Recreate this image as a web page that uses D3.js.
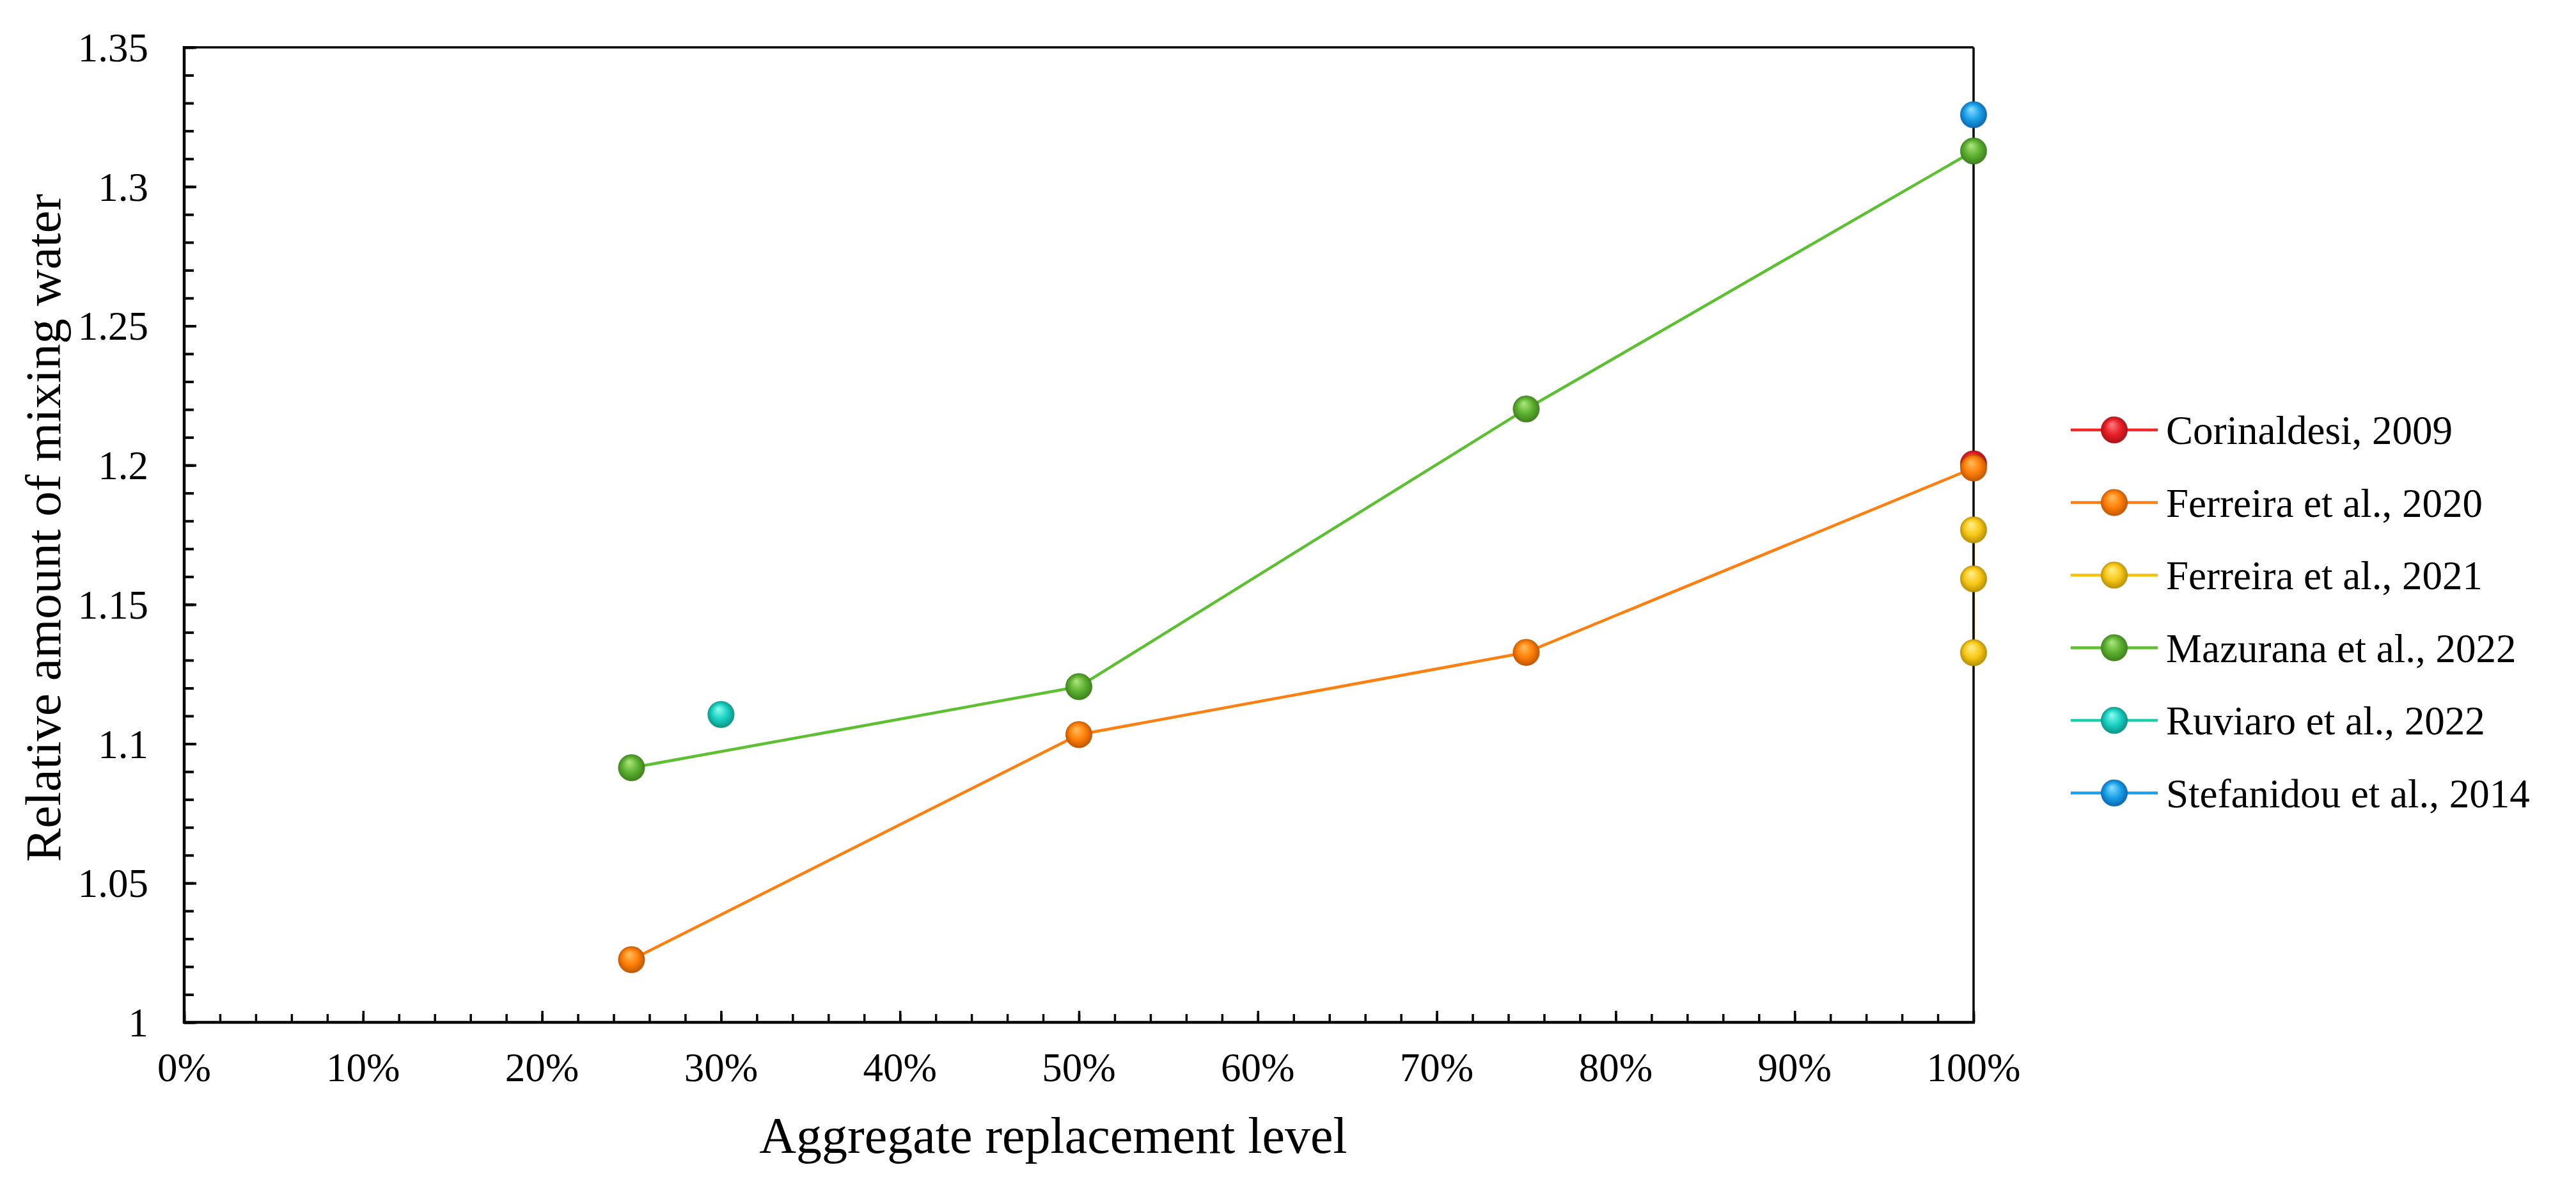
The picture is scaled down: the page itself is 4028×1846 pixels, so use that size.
<!DOCTYPE html>
<html>
<head>
<meta charset="utf-8">
<script src="https://cdn.jsdelivr.net/npm/d3@7/dist/d3.min.js"></script>
<style>
  body { margin:0; background:#fff; }
  text { font-family: "Liberation Serif", "Times New Roman", serif; fill:#000; }
</style>
</head>
<body>
<svg id="chart" width="4028" height="1846"></svg>
<script>
// data
const seriesNames=["Corinaldesi, 2009","Ferreira et al., 2020","Ferreira et al., 2021","Mazurana et al., 2022","Ruviaro et al., 2022","Stefanidou et al., 2014"]
const corinaldesiX=[1.0], corinaldesiY=[1.2005]
const ferreira2020X=[0.25,0.5,0.75,1.0], ferreira2020Y=[1.0225,1.1033,1.1328,1.1990]
const ferreira2021X=[1.0,1.0,1.0], ferreira2021Y=[1.1768,1.1592,1.1327]
const mazuranaX=[0.25,0.5,0.75,1.0], mazuranaY=[1.0914,1.1205,1.2202,1.3128]
const ruviaroX=[0.3], ruviaroY=[1.1105]
const stefanidouX=[1.0], stefanidouY=[1.3258]
const yTicks=[1,1.05,1.1,1.15,1.2,1.25,1.3,1.35]
const xTicks=[0,0.1,0.2,0.3,0.4,0.5,0.6,0.7,0.8,0.9,1.0]
const lineColors=["#f02828","#ff8010","#f8c010","#5cc032","#18d0b0","#1aa0e8"]
const ballColors=[["#ff8080","#e81e26","#a01018"],["#ffc060","#ff8008","#b85000"],["#fff090","#f8c818","#b08800"],["#b0e880","#5cb030","#3a7a1a"],["#90fff4","#18d0c0","#0a8a80"],["#90e0ff","#18a0e8","#0a60a8"]]

const allX=[corinaldesiX,ferreira2020X,ferreira2021X,mazuranaX,ruviaroX,stefanidouX]
const allY=[corinaldesiY,ferreira2020Y,ferreira2021Y,mazuranaY,ruviaroY,stefanidouY]

const svg=d3.select("#chart")
svg.append("rect").attr("width",4028).attr("height",1846).attr("fill","#fff")

const L=288, R=3086, T=74, B=1598
const x=d3.scaleLinear().domain([0,1]).range([L,R])
const y=d3.scaleLinear().domain([1,1.35]).range([B,T])

// sphere gradients
const defs=svg.append("defs")
ballColors.forEach((c,i)=>{
  const g=defs.append("radialGradient").attr("id","ball"+i)
    .attr("cx","50%").attr("cy","50%").attr("r","55%").attr("fx","40%").attr("fy","28%")
  g.append("stop").attr("offset","0%").attr("stop-color",c[0])
  g.append("stop").attr("offset","55%").attr("stop-color",c[1])
  g.append("stop").attr("offset","100%").attr("stop-color",c[2])
})

const series=seriesNames.map((n,i)=>({name:n,i:i,pts:allX[i].map((v,k)=>[v,allY[i][k]])}))

// lines
const line=d3.line().x(d=>x(d[0])).y(d=>y(d[1]))
svg.append("g").selectAll("path").data(series).join("path")
  .attr("d",d=>line(d.pts)).attr("fill","none")
  .attr("stroke",d=>lineColors[d.i]).attr("stroke-width",4.5)

// axes with inward ticks
const yMinor=d3.range(1,1.3501,0.01)
const xMinor=d3.range(0,1.0001,0.02)
const gy=svg.append("g").attr("transform",`translate(${L},0)`)
gy.call(d3.axisRight(y).tickValues(yMinor).tickSize(15).tickFormat(""))
gy.append("g").call(d3.axisRight(y).tickValues(yTicks).tickSize(19).tickFormat(""))
gy.selectAll("path.domain").remove()
gy.selectAll("line").attr("stroke","#000").attr("stroke-width",4)

const gx=svg.append("g").attr("transform",`translate(0,${B})`)
gx.call(d3.axisTop(x).tickValues(xMinor).tickSize(13).tickFormat(""))
gx.append("g").call(d3.axisTop(x).tickValues(xTicks).tickSize(18).tickFormat(""))
gx.selectAll("path.domain").remove()
gx.selectAll("line").attr("stroke","#000").attr("stroke-width",3.5)

// frame
svg.append("line").attr("x1",L).attr("x2",R).attr("y1",T).attr("y2",T).attr("stroke","#000").attr("stroke-width",3.5)
svg.append("line").attr("x1",R).attr("x2",R).attr("y1",T).attr("y2",B).attr("stroke","#000").attr("stroke-width",3.5)
svg.append("line").attr("x1",L).attr("x2",L).attr("y1",T-2).attr("y2",B+2).attr("stroke","#000").attr("stroke-width",4.5)
svg.append("line").attr("x1",L-2).attr("x2",R+2).attr("y1",B).attr("y2",B).attr("stroke","#000").attr("stroke-width",4.5)

// tick labels
svg.append("g").selectAll("text").data(yTicks).join("text")
  .attr("x",L-56).attr("y",d=>y(d)).attr("dy","0.35em").attr("text-anchor","end")
  .attr("font-size",63).text(d=>d3.format("")(+d.toFixed(2)))
svg.append("g").selectAll("text").data(xTicks).join("text")
  .attr("x",d=>x(d)).attr("y",B+92).attr("text-anchor","middle")
  .attr("font-size",63).text(d=>Math.round(d*100)+"%")

// axis titles
svg.append("text").attr("x",(L+R)/2-40).attr("y",1802).attr("text-anchor","middle")
  .attr("font-size",80).text("Aggregate replacement level")
svg.append("text").attr("transform",`translate(94,825) rotate(-90)`).attr("text-anchor","middle")
  .attr("font-size",79).text("Relative amount of mixing water")

// markers
const mg=svg.append("g")
series.forEach(s=>{
  mg.append("g").selectAll("circle").data(s.pts).join("circle")
    .attr("cx",d=>x(d[0])).attr("cy",d=>y(d[1])).attr("r",20.5)
    .attr("fill",`url(#ball${s.i})`).attr("stroke",ballColors[s.i][2]).attr("stroke-opacity",0.6).attr("stroke-width",1.5)
})

// legend
const lg=svg.append("g").attr("transform","translate(3238,672)")
const item=lg.selectAll("g").data(series).join("g").attr("transform",d=>`translate(0,${d.i*113.5})`)
item.append("line").attr("x1",0).attr("x2",136).attr("stroke",d=>lineColors[d.i]).attr("stroke-width",4.5)
item.append("circle").attr("cx",68).attr("r",20.5).attr("fill",d=>`url(#ball${d.i})`)
  .attr("stroke",d=>ballColors[d.i][2]).attr("stroke-opacity",0.6).attr("stroke-width",1.5)
item.append("text").attr("x",149).attr("dy","0.35em").attr("font-size",63).text(d=>d.name)
</script>
</body>
</html>
